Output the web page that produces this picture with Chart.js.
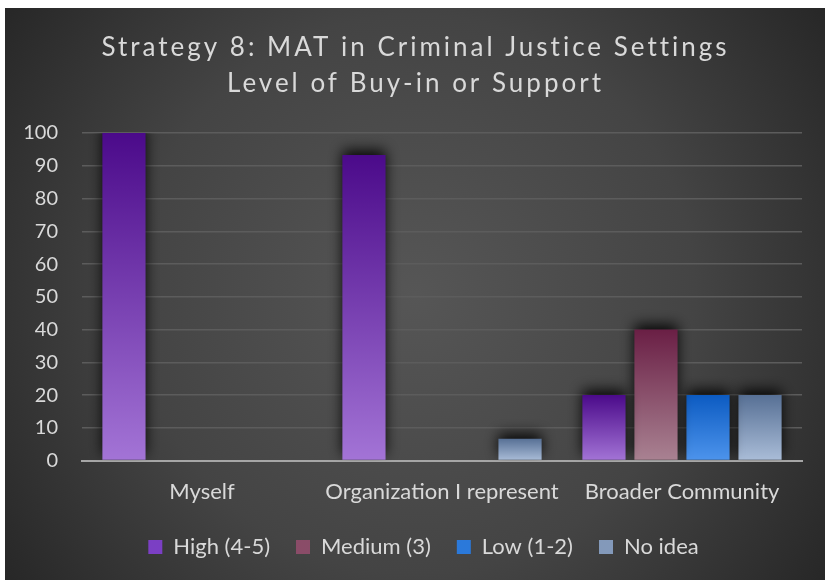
<!DOCTYPE html>
<html>
<head>
<meta charset="utf-8">
<script src="https://cdn.jsdelivr.net/npm/chart.js@4.4.1/dist/chart.umd.min.js"></script>
<style>
  html, body { margin: 0; padding: 0; background: #ffffff; }
  #wrap { position: absolute; left: 5px; top: 8px; width: 820px; height: 572px; }
</style>
</head>
<body>
<div id="wrap"><canvas id="c" width="820" height="572"></canvas></div>
<script>
const titleLines = ['Strategy 8: MAT in Criminal Justice Settings', 'Level of Buy-in or Support'];
const categories = ['Myself', 'Organization I represent', 'Broader Community'];
const seriesNames = ['High (4-5)', 'Medium (3)', 'Low (1-2)', 'No idea'];
const highValues = [100, 93.3, 20];
const mediumValues = [0, 0, 40];
const lowValues = [0, 0, 20];
const noIdeaValues = [0, 6.7, 20];
const yMin = 0, yMax = 100, yStep = 10;

const gradTop = ['#4b0a8a', '#6a1f45', '#0c5bc2', '#577095'];
const gradBottom = ['#a374d6', '#a98292', '#4d94ec', '#aabdd8'];
const legendColors = ['#7b3fc4', '#8a4c68', '#2b79da', '#8399ba'];
const textColor = '#d9d9d9';
const fontFamily = 'Lato, "Open Sans", sans-serif';

function barFill(i) {
  return function (ctx) {
    const chart = ctx.chart;
    if (ctx.type !== 'data' || !chart.chartArea || !chart.scales.y) return legendColors[i];
    const y = chart.scales.y;
    const top = y.getPixelForValue(ctx.raw);
    const bottom = y.getPixelForValue(0);
    if (bottom - top < 1) return legendColors[i];
    const g = chart.ctx.createLinearGradient(0, top, 0, bottom);
    g.addColorStop(0, gradTop[i]);
    g.addColorStop(1, gradBottom[i]);
    return g;
  };
}

const seriesValues = [highValues, mediumValues, lowValues, noIdeaValues];
const datasets = seriesNames.map((name, i) => ({
  label: name,
  data: seriesValues[i],
  backgroundColor: barFill(i),
  borderWidth: 0,
  categoryPercentage: 0.867,
  barPercentage: 0.83
}));

function shiftDraw(chart, el, dx, dy, spacing) {
  if (!el || el._shifted) return;
  const orig = el.draw.bind(el);
  el.draw = function () {
    const c = chart.ctx;
    c.save();
    c.translate(dx, dy);
    if (spacing) c.letterSpacing = spacing;
    orig();
    c.restore();
  };
  el._shifted = true;
}

const bgPlugin = {
  id: 'bg',
  beforeDraw(chart) {
    const c = chart.ctx, w = chart.width, h = chart.height;
    c.save();
    const g = c.createRadialGradient(w * 0.5, h * 0.5, 0, w * 0.5, h * 0.5, w * 0.62);
    g.addColorStop(0, '#565656');
    g.addColorStop(0.55, '#444444');
    g.addColorStop(1, '#262626');
    c.fillStyle = g;
    c.fillRect(0, 0, w, h);
    c.restore();
  },
  beforeDatasetsDraw(chart) {
    const c = chart.ctx;
    c.save();
    c.shadowColor = 'rgba(0,0,0,0.9)';
    c.shadowBlur = 14;
    c.shadowOffsetX = 0;
    c.shadowOffsetY = -5;
  },
  afterDatasetsDraw(chart) {
    chart.ctx.restore();
  },
  afterInit(chart) {
    shiftDraw(chart, chart.titleBlock, 12, 0, '3px');
    shiftDraw(chart, chart.legend, 20, -13, null);
  }
};

new Chart(document.getElementById('c'), {
  type: 'bar',
  data: { labels: categories, datasets },
  plugins: [bgPlugin],
  options: {
    responsive: false,
    animation: false,
    layout: { padding: { left: 0, right: 23, top: 0, bottom: -1 } },
    plugins: {
      tooltip: { enabled: false },
      title: {
        display: true,
        text: titleLines,
        color: textColor,
        font: { family: fontFamily, size: 26, weight: 'normal', lineHeight: 1.385 },
        padding: { top: 22, bottom: 31 }
      },
      legend: {
        position: 'bottom',
        labels: {
          color: textColor,
          font: { family: fontFamily, size: 22 },
          boxWidth: 14,
          boxHeight: 14,
          padding: 26,
          generateLabels(chart) {
            return chart.data.datasets.map((ds, i) => ({
              text: ds.label,
              fillStyle: legendColors[i],
              strokeStyle: legendColors[i],
              lineWidth: 0,
              fontColor: textColor,
              datasetIndex: i,
              hidden: false
            }));
          }
        }
      }
    },
    scales: {
      x: {
        grid: { display: false, drawTicks: false },
        border: { display: true, color: '#a6a6a6', width: 2 },
        ticks: { color: textColor, font: { family: fontFamily, size: 22 }, padding: 18, maxRotation: 0, autoSkip: false }
      },
      y: {
        min: yMin,
        max: yMax,
        afterFit(scale) { scale.width = 77; },
        grid: { color: '#5c5c5c', lineWidth: 1.5, drawTicks: false },
        border: { display: false },
        ticks: { stepSize: yStep, color: textColor, font: { family: fontFamily, size: 20 }, padding: 24 }
      }
    }
  }
});
</script>
</body>
</html>
